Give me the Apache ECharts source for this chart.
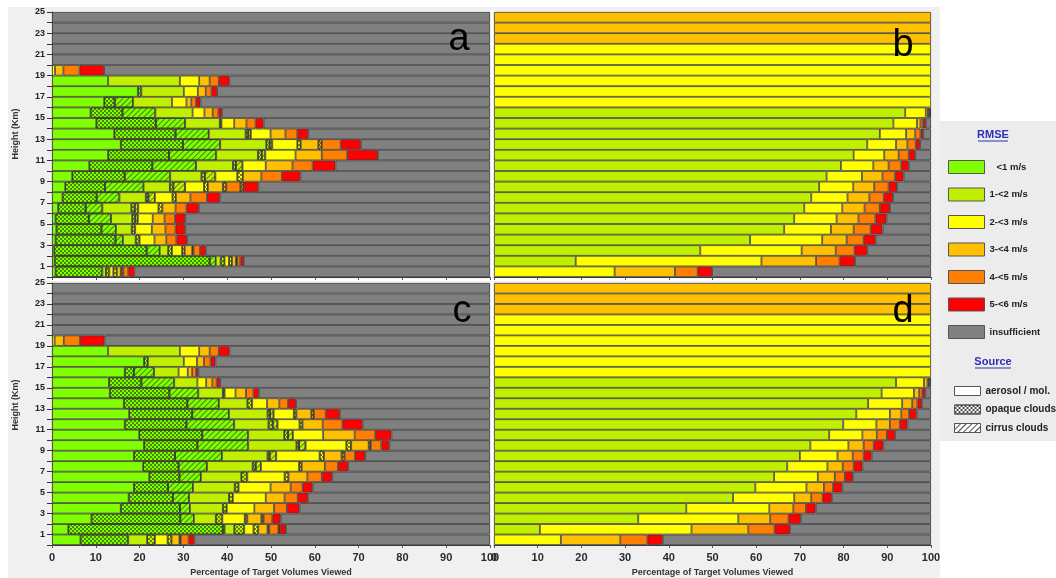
<!DOCTYPE html>
<html>
<head>
<meta charset="utf-8">
<script src="https://cdn.jsdelivr.net/npm/echarts@6/dist/echarts.min.js"></script>
<style>
  html, body { margin: 0; padding: 0; background: #ffffff; }
  #chart { width: 1056px; height: 578px; }
</style>
</head>
<body>
<div id="chart"></div>
<script>
// Height bins (km), bottom to top
const heightBins = ['0-1','1-2','2-3','3-4','4-5','5-6','6-7','7-8','8-9','9-10','10-11','11-12','12-13',
  '13-14','14-15','15-16','16-17','17-18','18-19','19-20','20-21','21-22','22-23','23-24','24-25'];
const rmseClasses = ['<1 m/s', '1-<2 m/s', '2-<3 m/s', '3-<4 m/s', '4-<5 m/s', '5-<6 m/s'];
const insufficientName = 'insufficient';
const sourceNames = ['aerosol / mol.', 'opaque clouds', 'cirrus clouds'];
const yTickLabels = ['1', '3', '5', '7', '9', '11', '13', '15', '17', '19', '21', '23', '25'];
const xTickLabels = ['0', '10', '20', '30', '40', '50', '60', '70', '80', '90', '100'];
const axisTitle = 'Percentage of Target Volumes Viewed';
const yTitle = 'Height (Km)';

// Percent of target volumes per height bin; each row = [<1, 1-<2, 2-<3, 3-<4, 4-<5, 5-<6] m/s
// Panel a
const aAerosol = [
  [0.8, 0.8, 0.9, 0.9, 1.1, 1.4], [0.6, 1.1, 1.0, 0.9, 0.7, 0.8], [0.5, 1.9, 2.3, 1.7, 1.5, 1.3],
  [0.8, 2.9, 3.4, 2.7, 2.3, 2.4], [1.0, 3.6, 3.8, 3.1, 2.3, 2.2], [0.8, 4.8, 3.4, 2.7, 2.4, 2.3],
  [1.4, 6.6, 4.6, 3.0, 2.5, 2.8], [2.4, 6.0, 4.0, 3.3, 3.8, 2.9], [3.0, 6.0, 4.3, 3.4, 3.2, 3.3],
  [4.6, 7.1, 5.0, 4.2, 4.7, 4.2], [8.5, 8.4, 5.3, 6.1, 4.6, 5.2], [12.8, 9.5, 6.9, 6.0, 5.8, 7.0],
  [15.7, 10.5, 5.7, 4.0, 4.3, 4.6], [14.2, 8.4, 4.5, 3.4, 2.7, 2.5], [10.1, 7.9, 2.9, 2.8, 2.1, 1.8],
  [8.8, 8.5, 2.7, 1.9, 1.3, 0.8], [11.9, 8.9, 3.3, 1.1, 1.1, 1.0], [19.6, 9.7, 3.2, 1.8, 1.3, 1.3],
  [12.8, 16.4, 4.4, 2.4, 2.1, 2.4], [0, 0, 0.7, 1.9, 3.7, 5.6],
  [0, 0, 0, 0, 0, 0], [0, 0, 0, 0, 0, 0], [0, 0, 0, 0, 0, 0], [0, 0, 0, 0, 0, 0], [0, 0, 0, 0, 0, 0]
];
const aOpaque = [
  [10.7, 0.8, 0.8, 0.6, 0, 0], [35.4, 0.9, 0.7, 0.3, 0, 0], [21.1, 0.9, 0.6, 0.3, 0, 0],
  [13.7, 0.9, 0, 0, 0, 0], [10.3, 0.8, 0, 0, 0, 0], [7.6, 0.7, 0, 0, 0, 0],
  [6.3, 0.8, 0.9, 0, 0, 0], [7.8, 0.6, 0.8, 0, 0, 0], [9.1, 0.8, 0.9, 0.8, 0.8, 0],
  [12.0, 0.8, 1.3, 0, 0, 0], [14.4, 0.7, 0, 0, 0, 0], [13.9, 0.9, 0, 0, 0, 0],
  [14.2, 0.8, 0.8, 0.8, 0, 0], [14.0, 0.6, 0, 0, 0, 0], [13.6, 0.4, 0, 0, 0, 0],
  [7.3, 0, 0, 0, 0, 0], [2.4, 0, 0, 0, 0, 0], [0.8, 0, 0, 0, 0, 0],
  [0, 0, 0, 0, 0, 0], [0, 0, 0, 0, 0, 0],
  [0, 0, 0, 0, 0, 0], [0, 0, 0, 0, 0, 0], [0, 0, 0, 0, 0, 0], [0, 0, 0, 0, 0, 0], [0, 0, 0, 0, 0, 0]
];
const aCirrus = [
  [0, 0, 0, 0, 0, 0], [1.4, 0, 0, 0, 0, 0], [3.0, 0, 0, 0, 0, 0],
  [1.7, 0, 0, 0, 0, 0], [3.3, 0, 0, 0, 0, 0], [5.1, 0.6, 0, 0, 0, 0],
  [3.8, 0.8, 0, 0, 0, 0], [5.2, 1.5, 0, 0, 0, 0], [8.8, 2.7, 0, 0, 0, 0],
  [10.4, 2.4, 0, 0, 0, 0], [10.0, 1.5, 0, 0, 0, 0], [10.8, 0.8, 0, 0, 0, 0],
  [8.5, 0.6, 0, 0, 0, 0], [7.6, 0.6, 0, 0, 0, 0], [6.7, 0, 0, 0, 0, 0],
  [7.5, 0, 0, 0, 0, 0], [4.2, 0, 0, 0, 0, 0], [0, 0, 0, 0, 0, 0],
  [0, 0, 0, 0, 0, 0], [0, 0, 0, 0, 0, 0],
  [0, 0, 0, 0, 0, 0], [0, 0, 0, 0, 0, 0], [0, 0, 0, 0, 0, 0], [0, 0, 0, 0, 0, 0], [0, 0, 0, 0, 0, 0]
];

// Panel b
const bAll = [
  [0, 0, 27.6, 13.8, 5.2, 3.3], [0, 18.7, 42.5, 12.5, 5.4, 3.5], [0, 47.2, 23.2, 7.8, 4.3, 2.9],
  [0, 58.6, 16.5, 5.6, 3.9, 2.7], [0, 66.4, 10.7, 5.2, 3.9, 2.7], [0, 68.7, 9.7, 5.0, 3.9, 2.5],
  [0, 71.0, 8.7, 5.1, 3.5, 2.3], [0, 72.6, 8.3, 5.0, 3.3, 2.1], [0, 74.4, 7.8, 4.8, 3.3, 1.9],
  [0, 76.1, 8.1, 4.7, 2.9, 1.9], [0, 79.4, 7.4, 3.5, 2.9, 1.7], [0, 82.3, 7.0, 3.3, 2.3, 1.5],
  [0, 85.4, 6.6, 2.6, 1.9, 1.0], [0, 88.3, 6.0, 2.1, 1.2, 0.6], [0, 91.4, 5.4, 0.8, 0.6, 0.6],
  [0, 94.1, 4.7, 0.5, 0.3, 0.2], [0, 0, 100, 0, 0, 0], [0, 0, 100, 0, 0, 0],
  [0, 0, 100, 0, 0, 0], [0, 0, 100, 0, 0, 0], [0, 0, 100, 0, 0, 0], [0, 0, 100, 0, 0, 0],
  [0, 0, 0, 100, 0, 0], [0, 0, 0, 100, 0, 0], [0, 0, 0, 100, 0, 0]
];

// Panel c
const cAerosol = [
  [6.5, 4.3, 2.9, 1.8, 1.8, 1.3], [3.7, 2.2, 2.1, 2.1, 2.1, 1.4], [9.0, 5.0, 5.1, 3.2, 2.0, 1.9],
  [15.7, 7.5, 6.3, 4.5, 2.9, 2.9], [17.5, 9.1, 7.5, 4.3, 3.0, 2.3], [18.7, 9.5, 7.3, 4.6, 2.7, 2.3],
  [22.2, 9.2, 8.5, 4.3, 3.3, 2.4], [20.8, 10.4, 8.7, 5.3, 3.0, 2.3], [18.7, 10.4, 9.9, 4.0, 2.4, 2.3],
  [21.0, 11.0, 9.3, 4.0, 2.4, 1.8], [19.9, 8.2, 6.9, 7.2, 4.7, 3.7], [16.6, 7.8, 5.0, 4.6, 4.5, 4.6],
  [17.6, 8.8, 4.6, 3.4, 2.7, 3.2], [16.4, 6.5, 3.4, 2.8, 2.0, 1.8], [13.2, 5.6, 2.5, 2.4, 1.7, 1.2],
  [13.0, 5.3, 2.0, 1.4, 1.0, 0.8], [16.6, 5.6, 2.1, 1.0, 0.9, 0.5], [21.0, 8.2, 3.0, 1.6, 1.5, 1.1],
  [12.8, 16.4, 4.4, 2.4, 2.1, 2.4], [0, 0, 0.6, 2.1, 3.7, 5.6],
  [0, 0, 0, 0, 0, 0], [0, 0, 0, 0, 0, 0], [0, 0, 0, 0, 0, 0], [0, 0, 0, 0, 0, 0], [0, 0, 0, 0, 0, 0]
];
const cOpaque = [
  [10.9, 1.8, 0.9, 0.3, 0, 0], [35.3, 2.3, 1.1, 0.4, 0.3, 0], [20.3, 1.5, 0.6, 0.5, 0, 0],
  [13.5, 0.9, 0, 0, 0, 0], [10.1, 0.9, 0, 0, 0, 0], [7.8, 0.9, 0, 0, 0, 0],
  [6.9, 1.4, 0.9, 0, 0, 0], [8.1, 0.7, 0.6, 0, 0, 0], [9.4, 0.5, 1.0, 0.7, 0, 0],
  [12.2, 0.6, 1.1, 0.5, 0, 0], [14.4, 0.9, 0, 0, 0, 0], [14.1, 1.0, 0.7, 0, 0, 0],
  [14.4, 0.6, 0.6, 0.6, 0, 0], [14.5, 1.1, 0, 0, 0, 0], [13.6, 0.4, 0, 0, 0, 0],
  [7.4, 0, 0, 0, 0, 0], [2.1, 0, 0, 0, 0, 0], [0.9, 0, 0, 0, 0, 0],
  [0, 0, 0, 0, 0, 0], [0, 0, 0, 0, 0, 0],
  [0, 0, 0, 0, 0, 0], [0, 0, 0, 0, 0, 0], [0, 0, 0, 0, 0, 0], [0, 0, 0, 0, 0, 0], [0, 0, 0, 0, 0, 0]
];
const cCirrus = [
  [0, 0, 0, 0, 0, 0], [0.4, 0, 0, 0, 0, 0], [3.1, 0, 0, 0, 0, 0],
  [2.3, 0, 0, 0, 0, 0], [3.7, 0, 0, 0, 0, 0], [5.7, 0, 0, 0, 0, 0],
  [4.9, 0, 0, 0, 0, 0], [6.5, 1.2, 0, 0, 0, 0], [10.7, 1.5, 0, 0, 0, 0],
  [11.6, 1.5, 0, 0, 0, 0], [10.5, 1.1, 0, 0, 0, 0], [10.9, 1.1, 0, 0, 0, 0],
  [8.4, 0.8, 0, 0, 0, 0], [7.2, 0, 0, 0, 0, 0], [6.6, 0, 0, 0, 0, 0],
  [7.5, 0, 0, 0, 0, 0], [4.6, 0, 0, 0, 0, 0], [0, 0, 0, 0, 0, 0],
  [0, 0, 0, 0, 0, 0], [0, 0, 0, 0, 0, 0],
  [0, 0, 0, 0, 0, 0], [0, 0, 0, 0, 0, 0], [0, 0, 0, 0, 0, 0], [0, 0, 0, 0, 0, 0], [0, 0, 0, 0, 0, 0]
];

// Panel d
const dAll = [
  [0, 0, 15.3, 13.6, 6.2, 3.5], [0, 10.5, 34.7, 13.0, 6.0, 3.5], [0, 33.0, 22.9, 7.3, 4.2, 2.8],
  [0, 44.0, 19.0, 5.5, 2.9, 2.2], [0, 54.7, 14.0, 3.9, 2.6, 2.1], [0, 59.8, 11.7, 4.0, 2.1, 2.1],
  [0, 64.1, 10.0, 3.9, 2.3, 1.8], [0, 67.1, 9.2, 3.5, 2.5, 2.0], [0, 70.0, 8.6, 3.5, 2.5, 1.8],
  [0, 72.4, 8.7, 3.5, 2.3, 2.2], [0, 76.7, 7.6, 3.3, 2.3, 1.9], [0, 79.9, 7.6, 3.1, 2.3, 1.7],
  [0, 82.9, 7.7, 2.6, 1.8, 1.7], [0, 85.6, 7.8, 2.3, 1.2, 1.0], [0, 88.7, 7.4, 1.2, 0.7, 0.7],
  [0, 92.0, 6.4, 0.8, 0.3, 0.2], [0, 0, 100, 0, 0, 0], [0, 0, 100, 0, 0, 0],
  [0, 0, 100, 0, 0, 0], [0, 0, 100, 0, 0, 0], [0, 0, 100, 0, 0, 0], [0, 0, 100, 0, 0, 0],
  [0, 0, 0, 100, 0, 0], [0, 0, 0, 100, 0, 0], [0, 0, 0, 100, 0, 0]
];

// ---- styling ----
const FONT = '"Liberation Sans", Arial, sans-serif';
const classColors = ['#80FF00', '#C0F000', '#FFFF00', '#FFC000', '#FF8000', '#FF0000'];
const insufficientColor = '#808080';
const segmentBorder = '#3a3a3a';
const hatchInk = 'rgba(20,40,0,0.55)';

const opaqueDecal = {
  symbol: 'rect', symbolSize: 1,
  dashArrayX: [[1.5, 1.5], [0, 1.5, 1.5, 0]], dashArrayY: [1.5, 0],
  color: hatchInk
};
const cirrusDecal = {
  symbol: 'rect', symbolSize: 1,
  dashArrayX: [1, 0], dashArrayY: [1, 2.2],
  rotation: -Math.PI / 4,
  color: hatchInk
};
const sourceDecals = [null, opaqueDecal, cirrusDecal];

// grids: a (top-left), b (top-right), c (bottom-left), d (bottom-right)
const grids = [
  { left: 52, top: 12, width: 438, height: 265 },
  { left: 494, top: 12, width: 437, height: 265 },
  { left: 52, top: 283, width: 438, height: 265 },
  { left: 494, top: 283, width: 437, height: 265 }
];

function xAxisFor(gridIndex, withLabels) {
  return {
    type: 'value', gridIndex, min: 0, max: 100, interval: 10, position: 'bottom',
    axisLine: { show: true, lineStyle: { color: '#3a3a3a', width: 1 } },
    axisTick: { show: true, length: 3, lineStyle: { color: '#555' } },
    axisLabel: {
      show: withLabels, margin: 7, color: '#2a2a2a', fontFamily: FONT, fontSize: 11, fontWeight: 'bold',
      formatter: v => (xTickLabels.includes(String(v)) ? String(v) : '')
    },
    splitLine: { show: false },
    name: withLabels ? axisTitle : '',
    nameLocation: 'middle', nameGap: 23,
    nameTextStyle: { fontFamily: FONT, fontSize: 9, fontWeight: 'bold', color: '#333' }
  };
}
function catAxisFor(gridIndex) {
  return { type: 'category', gridIndex, position: 'right', data: heightBins, show: false, boundaryGap: true };
}
function heightAxisFor(gridIndex) {
  return {
    type: 'value', gridIndex, position: 'left', min: 0, max: 25, interval: 1,
    axisLine: { show: true, lineStyle: { color: '#3a3a3a' } },
    axisTick: { show: true, length: 5, lineStyle: { color: '#333' } },
    axisLabel: {
      margin: 7, color: '#222', fontFamily: FONT, fontSize: 9, fontWeight: 'bold',
      formatter: v => (yTickLabels.includes(String(v)) ? String(v) : '')
    },
    splitLine: { show: false }
  };
}

// xAxis index == grid index; yAxis: 0 cat a, 1 height a, 2 cat b, 3 cat c, 4 height c, 5 cat d
const xAxes = [xAxisFor(0, false), xAxisFor(1, false), xAxisFor(2, true), xAxisFor(3, true)];
const yAxes = [catAxisFor(0), heightAxisFor(0), catAxisFor(1), catAxisFor(2), heightAxisFor(2), catAxisFor(3)];

function panelSeries(stackKey, gridIndex, catAxisIndex, sources) {
  const out = [];
  rmseClasses.forEach((cls, ci) => {
    sources.forEach((rows, si) => {
      out.push({
        type: 'bar',
        name: si === 0 ? cls : cls + ' / ' + sourceNames[si],
        stack: stackKey,
        xAxisIndex: gridIndex, yAxisIndex: catAxisIndex,
        barCategoryGap: '0%',
        silent: true,
        itemStyle: {
          color: classColors[ci], borderColor: segmentBorder, borderWidth: 0.8,
          decal: sourceDecals[si] || undefined
        },
        data: rows.map(r => (r[ci] > 0 ? r[ci] : '-'))
      });
    });
  });
  // remaining share of each height bin has too few samples
  const rest = heightBins.map((_, ri) => {
    let s = 0;
    sources.forEach(rows => rows[ri].forEach(v => { s += v; }));
    const r = +(100 - s).toFixed(2);
    return r > 0 ? r : '-';
  });
  out.push({
    type: 'bar', name: insufficientName, stack: stackKey,
    xAxisIndex: gridIndex, yAxisIndex: catAxisIndex,
    barCategoryGap: '0%', silent: true,
    itemStyle: { color: insufficientColor, borderColor: segmentBorder, borderWidth: 0.8 },
    data: rest
  });
  return out;
}

const series = [].concat(
  panelSeries('a', 0, 0, [aAerosol, aOpaque, aCirrus]),
  panelSeries('b', 1, 2, [bAll]),
  panelSeries('c', 2, 3, [cAerosol, cOpaque, cCirrus]),
  panelSeries('d', 3, 5, [dAll])
);
// legend entries for the source patterns (no bars of their own)
const legendDecalInk = 'rgba(0,0,0,0.7)';
sourceNames.forEach((nm, si) => {
  series.push({
    type: 'bar', name: nm, stack: 'a', xAxisIndex: 0, yAxisIndex: 0, barCategoryGap: '0%',
    itemStyle: {
      color: '#ffffff',
      decal: si === 0 ? undefined : Object.assign({}, sourceDecals[si], { color: legendDecalInk })
    },
    data: []
  });
});

const legendText = { fontFamily: FONT, fontSize: 9.5, fontWeight: 'bold', color: '#222' };

const option = {
  animation: false,
  backgroundColor: '#ffffff',
  grid: grids,
  xAxis: xAxes,
  yAxis: yAxes,
  series,
  legend: [
    {
      orient: 'vertical', left: 943, top: 155,
      data: rmseClasses.concat([insufficientName]),
      icon: 'rect', itemWidth: 36, itemHeight: 13, itemGap: 13.5,
      selectedMode: false,
      itemStyle: { borderColor: '#555', borderWidth: 1 },
      textStyle: Object.assign({}, legendText, { rich: { ind: Object.assign({}, legendText, { padding: [0, 0, 0, 7] }) } }),
      formatter: n => (n === rmseClasses[0] ? '{ind|' + n + '}' : n)
    },
    {
      orient: 'vertical', left: 949, top: 381,
      data: sourceNames,
      icon: 'rect', itemWidth: 26, itemHeight: 9, itemGap: 8.5,
      selectedMode: false,
      itemStyle: { borderColor: '#555', borderWidth: 1 },
      textStyle: Object.assign({}, legendText, { fontSize: 10 })
    }
  ],
  graphic: [
    // frame and legend panel backgrounds
    { type: 'rect', z: -10, shape: { x: 8, y: 7, width: 932, height: 571 }, style: { fill: '#f0f0f0' } },
    { type: 'rect', z: -10, shape: { x: 940, y: 121, width: 116, height: 320 }, style: { fill: '#ececec' } },
    { type: 'rect', z: -5, shape: { x: 490.5, y: 10, width: 3, height: 540 }, style: { fill: '#ffffff' } },
    { type: 'rect', z: -5, shape: { x: 50, y: 278.5, width: 883, height: 2.5 }, style: { fill: '#ffffff' } },
    // panel letters
    { type: 'text', z: 50, x: 459, y: 40, style: { text: 'a', font: '38px ' + FONT, fill: '#000', align: 'center', verticalAlign: 'middle' } },
    { type: 'text', z: 50, x: 903, y: 46, style: { text: 'b', font: '38px ' + FONT, fill: '#000', align: 'center', verticalAlign: 'middle' } },
    { type: 'text', z: 50, x: 462, y: 312, style: { text: 'c', font: '38px ' + FONT, fill: '#000', align: 'center', verticalAlign: 'middle' } },
    { type: 'text', z: 50, x: 903, y: 312, style: { text: 'd', font: '38px ' + FONT, fill: '#000', align: 'center', verticalAlign: 'middle' } },
    // y titles
    { type: 'text', z: 50, x: 16, y: 134, rotation: Math.PI / 2, style: { text: yTitle, font: 'bold 9px ' + FONT, fill: '#333', align: 'center', verticalAlign: 'middle' } },
    { type: 'text', z: 50, x: 16, y: 405, rotation: Math.PI / 2, style: { text: yTitle, font: 'bold 9px ' + FONT, fill: '#333', align: 'center', verticalAlign: 'middle' } },
    // legend headings
    { type: 'text', z: 50, x: 993, y: 135, style: { text: 'RMSE', font: 'bold 11px ' + FONT, fill: '#2e2eb8', align: 'center', verticalAlign: 'middle' } },
    { type: 'line', z: 50, shape: { x1: 978, y1: 141, x2: 1008, y2: 141 }, style: { stroke: '#2e2eb8', lineWidth: 1 } },
    { type: 'text', z: 50, x: 993, y: 362, style: { text: 'Source', font: 'bold 11px ' + FONT, fill: '#2e2eb8', align: 'center', verticalAlign: 'middle' } },
    { type: 'line', z: 50, shape: { x1: 975, y1: 368, x2: 1011, y2: 368 }, style: { stroke: '#2e2eb8', lineWidth: 1 } }
  ]
};

const chart = echarts.init(document.getElementById('chart'), null, { renderer: 'canvas' });
chart.setOption(option);
</script>
</body>
</html>
